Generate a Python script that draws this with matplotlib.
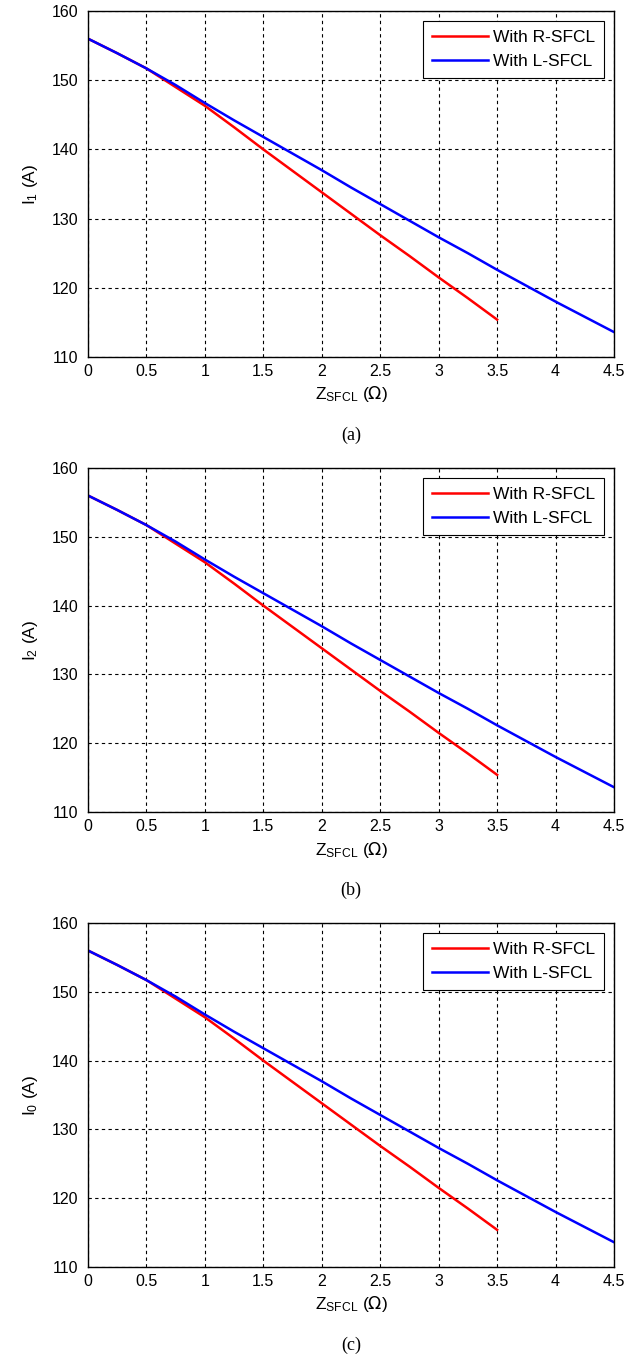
import matplotlib
matplotlib.use('Agg')
import matplotlib.pyplot as plt

plt.rcParams['font.family'] = ['Liberation Sans', 'DejaVu Sans']

# Z_SFCL (ohm) and currents
z_r = [0, 0.25, 0.5, 0.75, 1, 1.25, 1.5, 1.75, 2, 2.25, 2.5, 2.75, 3, 3.25, 3.5]
i_r = [156.0, 153.9, 151.7, 149.0, 146.3, 143.2, 140.0, 136.9, 133.8, 130.7,
       127.6, 124.6, 121.5, 118.5, 115.4]
z_l = [0, 0.25, 0.5, 0.75, 1, 1.25, 1.5, 1.75, 2, 2.25, 2.5, 2.75, 3, 3.25,
       3.5, 3.75, 4, 4.25, 4.5]
i_l = [156.0, 153.9, 151.7, 149.3, 146.7, 144.2, 141.8, 139.4, 137.0, 134.5,
       132.1, 129.7, 127.3, 125.0, 122.6, 120.3, 118.0, 115.8, 113.6]

ylabels = [r'$\mathregular{I_1}$ (A)', r'$\mathregular{I_2}$ (A)', r'$\mathregular{I_0}$ (A)']
captions = ['(a)', '(b)', '(c)']
xticks = [0, 0.5, 1, 1.5, 2, 2.5, 3, 3.5, 4, 4.5]
xticklabels = ['0', '0.5', '1', '1.5', '2', '2.5', '3', '3.5', '4', '4.5']
yticks = [110, 120, 130, 140, 150, 160]

fig = plt.figure(figsize=(6.3, 13.6), dpi=100)
W, H = 630.0, 1360.0
# axes boxes in pixels: (top, bottom)
boxes = [(11, 357), (468, 812), (923, 1267)]
left, right = 88, 614

for k in range(3):
    top, bot = boxes[k]
    ax = fig.add_axes([left / W, 1 - bot / H, (right - left) / W, (bot - top) / H])
    ax.plot(z_r, i_r, color='red', lw=1.8, label='With R-SFCL')
    ax.plot(z_l, i_l, color='blue', lw=1.8, label='With L-SFCL')
    ax.set_xlim(0, 4.5)
    ax.set_ylim(110, 160)
    ax.set_xticks(xticks)
    ax.set_xticklabels(xticklabels)
    ax.set_yticks(yticks)
    ax.tick_params(labelsize=11.5, length=0)
    ax.tick_params(axis='x', pad=5)
    ax.tick_params(axis='y', pad=7)
    ax.grid(True, color='black', linestyle=(0, (3, 3)), linewidth=0.8)
    for s in ax.spines.values():
        s.set_linewidth(1.0)
    ax.set_xlabel(r'$\mathregular{Z_{SFCL}}$ ($\Omega$)', fontsize=12.5, labelpad=4)
    ax.set_ylabel(ylabels[k], fontsize=12.5, labelpad=8)
    leg = ax.legend(loc='upper right', fontsize=12.5, fancybox=False, framealpha=1,
                    edgecolor='black', handlelength=3.2, handletextpad=0.3,
                    borderaxespad=0.6, labelspacing=0.5, borderpad=0.5)
    leg.get_frame().set_linewidth(0.8)
    fig.text((left + right) / 2 / W, 1 - (bot + 78) / H, captions[k],
             ha='center', va='center', fontsize=13, family='Liberation Serif')

fig.savefig('out.png', dpi=100)
